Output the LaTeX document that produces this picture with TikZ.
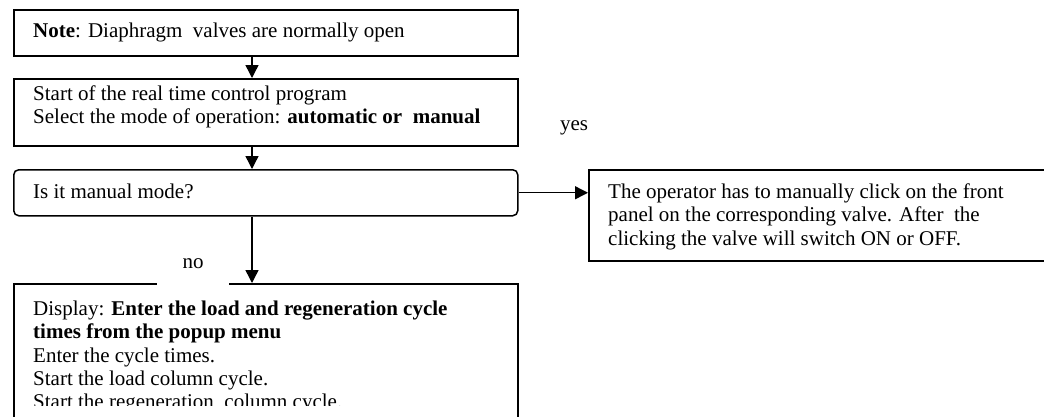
\documentclass[tikz,border=0pt]{standalone}
\usepackage{fontspec}
\setmainfont{Liberation Serif}
\usetikzlibrary{arrows.meta}
% fixed first-line height so text nodes can be placed by their top edge
\newcommand\lineup{\rule{0pt}{15pt}}
\begin{document}
\begin{tikzpicture}[x=1pt,y=-1pt,
  frame/.style={draw, line width=1.5pt, inner sep=0pt, anchor=north west},
  txt/.style={anchor=north west, inner sep=0pt, align=left,
    font=\fontsize{21}{23.4}\selectfont},
  lbl/.style={anchor=base, inner sep=0pt, font=\fontsize{21}{23.4}\selectfont},
  flow/.style={line width=1.4pt, -{Triangle[length=13pt,width=13pt]}},
  ]
\useasboundingbox (0,0) rectangle (1044,416);
\clip (0,0) rectangle (1044,416);

% box frames
\node[frame, minimum width=504pt, minimum height=46pt] (note) at (13,9) {};
\node[frame, minimum width=504pt, minimum height=67pt] (start) at (13,78) {};
\node[frame, rounded corners=5pt, minimum width=504pt, minimum height=46pt] (ask) at (13,169) {};
\node[frame, minimum width=504pt, minimum height=200pt] (cycle) at (13,283) {};
\node[frame, minimum width=500pt, minimum height=91pt] (manual) at (588,169) {};

% box texts
\node[txt] (notetext) at (33,22) {\lineup\textbf{Note}: Diaphragm\ \ valves are normally open};
\node[txt] (starttext) at (33,85) {\lineup Start of the real time control program\\
  Select the mode of operation: \textbf{automatic or\ \ manual}};
\node[txt] (asktext) at (33,183) {\lineup Is it manual mode?};
\node[txt] (manualtext) at (608,183) {\lineup The operator has to manually click on the front\\
  panel on the corresponding valve. After\ \ the\\
  clicking the valve will switch ON or OFF.};
\begin{scope}
  \clip (0,0) rectangle (1044,405);
  \node[txt] (cycletext) at (33,300) {\lineup Display: \textbf{Enter the load and regeneration cycle}\\
    \textbf{times from the popup menu}\\
    Enter the cycle times.\\
    Start the load column cycle.\\
    Start the regeneration\ \ column cycle.};
\end{scope}

% branch labels
\node[lbl] (yes) at (574,130) {yes};
\node[lbl, fill=white, minimum width=72pt, text depth=17pt] (no) at (193,268) {no};

% connectors
\coordinate (axis) at (252,0);
\draw[flow] (note.south -| axis) -- (start.north -| axis);
\draw[flow] (start.south -| axis) -- (ask.north -| axis);
\draw[flow] (ask.south -| axis) -- (cycle.north -| axis);
\draw[flow] (ask.east) -- (ask.east -| manual.west);
\end{tikzpicture}
\end{document}
